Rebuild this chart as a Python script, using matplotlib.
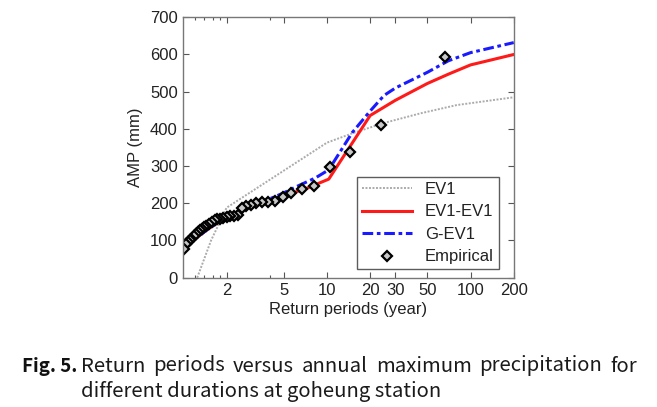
import numpy as np
import matplotlib
matplotlib.use('Agg')
import matplotlib.pyplot as plt
from matplotlib.ticker import FixedLocator, NullFormatter

plt.rcParams['font.family'] = ['Liberation Sans', 'DejaVu Sans']

# empirical points (return period, AMP)
emp_T = [66.29, 23.79, 14.50, 10.43, 8.14, 6.68, 5.66, 4.91, 4.34, 3.88, 3.51, 3.21,
         2.95, 2.74, 2.55, 2.39, 2.24, 2.11, 2.00, 1.90, 1.80, 1.72, 1.65, 1.58, 1.51,
         1.45, 1.40, 1.35, 1.30, 1.26, 1.22, 1.18, 1.14, 1.11, 1.07, 1.04, 1.015]
emp_P = [594, 410, 339, 298, 247, 238, 229, 218, 205, 204, 203, 201,
         195, 193, 188, 168, 166, 165, 162, 160, 158, 157, 155, 150, 145,
         140, 136, 132, 128, 122, 118, 112, 105, 100, 95, 90, 78]

# EV1
ev1_T = [1.25, 1.56, 2.0, 10.0, 15.0, 25.0, 45.0, 80.0, 200.0]
ev1_P = [0, 100, 188, 363, 388, 416, 442, 464, 485]

# EV1-EV1
ee_T = [1.0, 1.5, 2.0, 2.5, 3.0, 4.0, 5.0, 6.0, 7.0, 8.3, 10.3, 20, 30, 50, 70, 100, 200]
ee_P = [80, 132, 163, 180, 192, 207, 220, 230, 238, 250, 265, 436, 477, 522, 547, 572, 600]

# G-EV1
ge_T = [1.0, 1.5, 2.0, 2.5, 3.0, 4.0, 5.0, 6.0, 7.0, 8.3, 10.3, 15, 20, 25, 30, 50, 70, 100, 200]
ge_P = [80, 132, 163, 180, 193, 212, 228, 243, 255, 268, 290, 390, 448, 490, 510, 552, 583, 605, 632]

xticks = [2, 5, 10, 20, 30, 50, 100, 200]
xminor = [1.2, 1.4, 1.6, 1.8, 4]
yticks = [0, 100, 200, 300, 400, 500, 600, 700]

cap1 = 'Return periods versus annual maximum precipitation for'
cap2 = 'different durations at goheung station'

fig = plt.figure(figsize=(6.57, 4.07), dpi=100)
ax = fig.add_axes([0.279, 0.3177, 0.503, 0.6398])

ax.plot(ev1_T, ev1_P, color='#ababab', ls=(0, (1, 0.8)), lw=1.4, label='EV1')
ax.plot(ee_T, ee_P, color='#ff1a1a', ls='-', lw=2.2, label='EV1-EV1')
ax.plot(ge_T, ge_P, color='#1a1aff', ls=(0, (3.5, 1.2, 1.2, 1.2)), lw=2.2, label='G-EV1')
ax.plot(emp_T, emp_P, ls='none', marker='D', ms=4.8, mfc='#c8c8c8', mec='black',
        mew=1.6, label='Empirical')

ax.set_xscale('log')
ax.set_xlim(1, 200)
ax.set_ylim(0, 700)
ax.xaxis.set_major_locator(FixedLocator(xticks))
ax.xaxis.set_minor_locator(FixedLocator(xminor))
ax.xaxis.set_minor_formatter(NullFormatter())
ax.set_xticklabels([str(t) for t in xticks])
ax.set_yticks(yticks)
ax.tick_params(which='both', direction='in', top=True, right=True, labelsize=12,
               colors='#222222', pad=4)
ax.tick_params(which='major', length=4, width=0.8, color='#555555')
ax.tick_params(which='minor', length=2.5, width=0.8, color='#555555')
for s in ax.spines.values():
    s.set_color('#777777')
    s.set_linewidth(1.0)

ax.set_xlabel('Return periods (year)', fontsize=12, color='#222222', labelpad=3)
ax.set_ylabel('AMP (mm)', fontsize=12, color='#222222', labelpad=5)

leg = ax.legend(loc='lower right', bbox_to_anchor=(0.955, 0.032), fontsize=12,
                frameon=True, fancybox=False, handlelength=3.0, borderpad=0.3,
                labelspacing=0.45, handletextpad=0.8, borderaxespad=0)
leg.get_frame().set_edgecolor('#333333')
leg.get_frame().set_linewidth(1.0)
for t in leg.get_texts():
    t.set_color('#222222')

# caption, first line justified between x=81 and x=637
W, H = 657, 407
cap_font = ['Noto Sans CJK KR', 'DejaVu Sans']
fig.text(22 / W, 1 - 366 / H, 'Fig. 5.', fontsize=13.5, fontweight='bold',
         family=cap_font, va='center', ha='left', color='#111111')

renderer = fig.canvas.get_renderer()
words = cap1.split()
objs = [fig.text(0, 1 - 366 / H, w, fontsize=14.6, family=cap_font, va='center',
                 ha='left', color='#1a1a1a') for w in words]
widths = [o.get_window_extent(renderer).width for o in objs]
gap = (637 - 81 - sum(widths)) / (len(words) - 1)
x = 81
for o, w in zip(objs, widths):
    o.set_x(x / W)
    x += w + gap

fig.text(81 / W, 1 - 391 / H, cap2, fontsize=14.6, family=cap_font, va='center',
         ha='left', color='#1a1a1a')

fig.savefig('out.png', dpi=100)
